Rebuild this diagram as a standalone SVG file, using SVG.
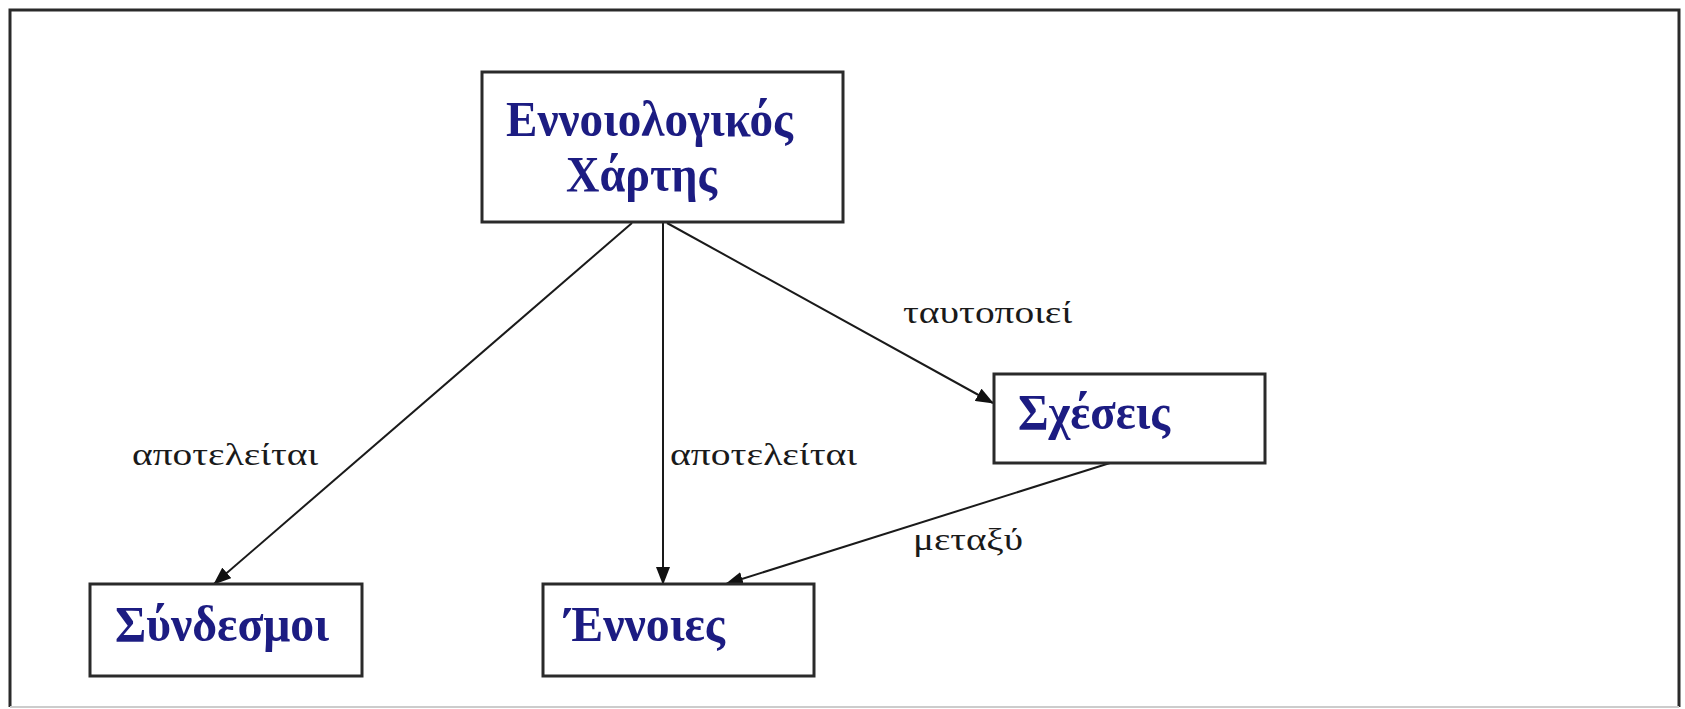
<svg xmlns="http://www.w3.org/2000/svg" width="1685" height="709" viewBox="0 0 1685 709">
  <style>
    .box { fill: #ffffff; stroke: #2a2a2a; stroke-width: 3; }
    .node-text { font-family: "Liberation Serif", "DejaVu Serif", serif; font-weight: bold; font-size: 50px; fill: #1c1c82; }
    .edge { stroke: #1a1a1a; stroke-width: 2; fill: none; marker-end: url(#arrow); }
    .edge-label { font-family: "Liberation Serif", "DejaVu Serif", serif; font-size: 31px; fill: #1a1a1a; }
  </style>
  <defs>
    <marker id="arrow" markerUnits="userSpaceOnUse" markerWidth="18" markerHeight="14" viewBox="0 0 18 14" refX="17" refY="7" orient="auto">
      <path d="M0,0 L18,7 L0,14 Z" fill="#111111"/>
    </marker>
  </defs>
  <rect x="0" y="0" width="1685" height="709" fill="#ffffff"/>
  <g id="frame">
    <path d="M10,707 L10,10 L1679,10 L1679,707" fill="none" stroke="#2a2a2a" stroke-width="3"/>
    <line x1="10" y1="707" x2="1679" y2="707" stroke="#cccccc" stroke-width="2"/>
  </g>
  <g id="connectors">
    <line class="edge" x1="632" y1="223" x2="214" y2="584"/>
    <line class="edge" x1="663" y1="223" x2="663" y2="584"/>
    <line class="edge" x1="667" y1="223" x2="993" y2="403"/>
    <line class="edge" x1="1110" y1="463" x2="726" y2="584"/>
    <text class="edge-label" x="132" y="465" textLength="186" lengthAdjust="spacingAndGlyphs">αποτελείται</text>
    <text class="edge-label" x="670" y="465" textLength="187" lengthAdjust="spacingAndGlyphs">αποτελείται</text>
    <text class="edge-label" x="903" y="323" textLength="169" lengthAdjust="spacingAndGlyphs">ταυτοποιεί</text>
    <text class="edge-label" x="913" y="550" textLength="110" lengthAdjust="spacingAndGlyphs">μεταξύ</text>
  </g>
  <g id="node-xartis">
    <rect class="box" x="482" y="72" width="361" height="150"/>
    <text class="node-text" x="506" y="136" textLength="287" lengthAdjust="spacingAndGlyphs">Εννοιολογικός</text>
    <text class="node-text" x="566" y="191" textLength="151" lengthAdjust="spacingAndGlyphs">Χάρτης</text>
  </g>
  <g id="node-sxeseis">
    <rect class="box" x="994" y="374" width="271" height="89"/>
    <text class="node-text" x="1018" y="429" textLength="152" lengthAdjust="spacingAndGlyphs">Σχέσεις</text>
  </g>
  <g id="node-syndesmoi">
    <rect class="box" x="90" y="584" width="272" height="92"/>
    <text class="node-text" x="115" y="641" textLength="214" lengthAdjust="spacingAndGlyphs">Σύνδεσμοι</text>
  </g>
  <g id="node-ennoies">
    <rect class="box" x="543" y="584" width="271" height="92"/>
    <text class="node-text" x="565" y="641" textLength="160" lengthAdjust="spacingAndGlyphs">Έννοιες</text>
  </g>
</svg>
